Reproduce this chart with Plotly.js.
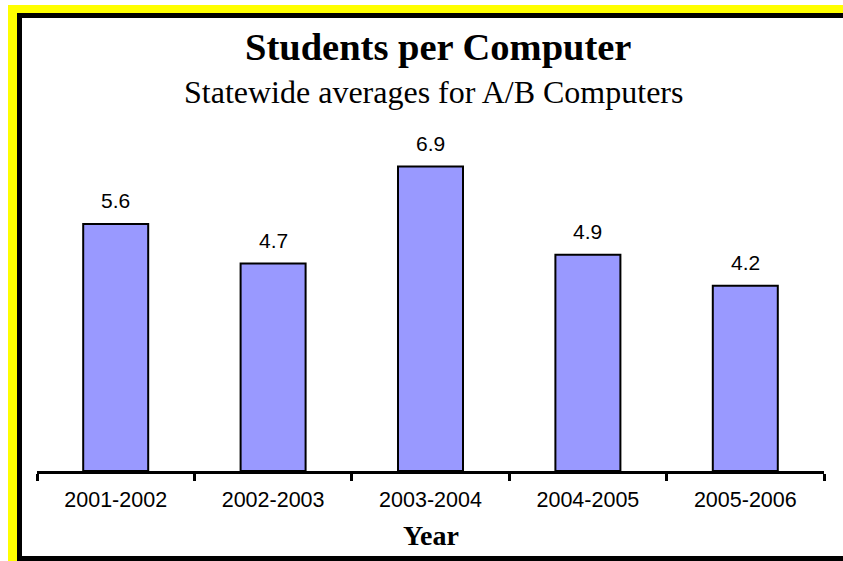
<!DOCTYPE html>
<html>
<head>
<meta charset="utf-8">
<script src="https://cdn.plot.ly/plotly-3.0.1.min.js"></script>
<style>
  html, body { margin: 0; padding: 0; background: #ffffff; overflow: hidden; }
  #chart { width: 843px; height: 561px; }
</style>
</head>
<body>
<div id="chart"></div>
<script>
const years = ["2001-2002", "2002-2003", "2003-2004", "2004-2005", "2005-2006"];
const studentsPerComputer = [5.6, 4.7, 6.9, 4.9, 4.2];
const titleText = "Students per Computer";
const subtitleText = "Statewide averages for A/B Computers";
const xTitleText = "Year";

// plot area in pixels
const PL = 37, PR = 824, PT = 118, PB = 471;
function px2paperX(px) { return (px - PL) / (PR - PL); }
function px2paperY(py) { return (PB - py) / (PB - PT); }

const trace = {
  type: "bar",
  x: years,
  y: studentsPerComputer,
  marker: { color: "#9999ff", line: { color: "#000000", width: 2 } },
  hoverinfo: "none"
};

const valueLabels = years.map((yr, i) => ({
  x: yr, y: studentsPerComputer[i], xref: "x", yref: "y",
  text: studentsPerComputer[i].toFixed(1),
  showarrow: false, yanchor: "bottom", yshift: 10,
  font: { family: "Liberation Sans, Arial, sans-serif", size: 21, color: "#000000" }
}));

function frameRect(x0, y0, x1, y1, color) {
  return { type: "rect", xref: "paper", yref: "paper", layer: "below",
    x0: px2paperX(x0), x1: px2paperX(x1), y0: px2paperY(y1), y1: px2paperY(y0),
    fillcolor: color, line: { width: 0 } };
}

const layout = {
  width: 843, height: 561,
  margin: { l: PL, r: 843 - PR, t: PT, b: 561 - PB },
  paper_bgcolor: "#ffffff",
  plot_bgcolor: "rgba(0,0,0,0)",
  bargap: 0.587,
  showlegend: false,
  xaxis: {
    type: "category",
    showline: true, linecolor: "#000000", linewidth: 3,
    ticks: "outside", tickson: "boundaries", ticklen: 7, tickwidth: 3, tickcolor: "#000000",
    ticklabelstandoff: 7,
    showgrid: false, zeroline: false,
    tickfont: { family: "Liberation Sans, Arial, sans-serif", size: 21.5, color: "#000000" }
  },
  yaxis: { range: [0, 8], visible: false, showgrid: false, zeroline: false },
  shapes: [
    frameRect(8, 5, 1000, 700, "#ffff00"),
    frameRect(17, 13, 1000, 700, "#000000"),
    frameRect(22, 18, 1000, 556, "#ffffff")
  ],
  annotations: valueLabels.concat([
    { text: "<b>" + titleText + "</b>", xref: "paper", yref: "paper",
      x: px2paperX(438), y: px2paperY(47), yanchor: "middle", showarrow: false,
      font: { family: "Liberation Serif, Times New Roman, serif", size: 38.5, color: "#000000" } },
    { text: subtitleText, xref: "paper", yref: "paper",
      x: px2paperX(433), y: px2paperY(92), yanchor: "middle", showarrow: false,
      font: { family: "Liberation Serif, Times New Roman, serif", size: 32, color: "#000000" } },
    { text: "<b>" + xTitleText + "</b>", xref: "paper", yref: "paper",
      x: px2paperX(431), y: px2paperY(535), yanchor: "middle", showarrow: false,
      font: { family: "Liberation Serif, Times New Roman, serif", size: 28, color: "#000000" } }
  ])
};

Plotly.newPlot("chart", [trace], layout, { staticPlot: true, displayModeBar: false });
</script>
</body>
</html>
